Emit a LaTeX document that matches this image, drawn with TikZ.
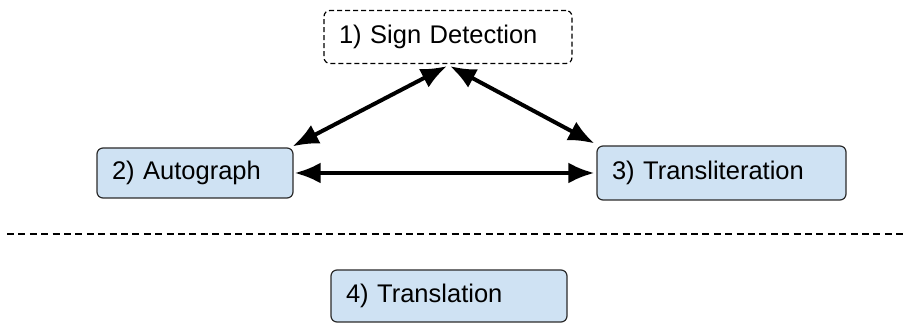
\documentclass[tikz,border=0pt]{standalone}
\usepackage{fontspec}
\setmainfont{Liberation Sans}
\usetikzlibrary{arrows.meta, positioning}

\definecolor{boxblue}{HTML}{CFE2F3}
\definecolor{boxline}{HTML}{2B2B2B}

\begin{document}
\begin{tikzpicture}[x=1pt, y=1pt,
    stage/.style={draw=boxline, line width=1.2pt, rounded corners=6pt, fill=boxblue,
        inner xsep=15pt, align=left, font=\fontsize{25.5}{30}\selectfont},
    link/.style={line width=4pt, {Latex[length=26pt,width=21pt]}-{Latex[length=26pt,width=21pt]}}]

\useasboundingbox (0,0) rectangle (903,324);

\node[stage, draw=black, fill=white, dashed, dash pattern=on 5pt off 3pt,
    text width=218pt, minimum height=53pt] (detect) at (448,287) {1) Sign Detection};
\node[stage, text width=166pt, minimum height=50pt] (autog) at (195,151) {2) Autograph};
\node[stage, text width=219pt, minimum height=54pt] (translit) at (721.5,151) {3) Transliteration};
\node[stage, text width=206pt, minimum height=52pt] (translat) at (449,28) {4) Translation};

\draw[link] ([xshift=-1pt,yshift=-2pt]detect.south) -- ([xshift=-1pt,yshift=1pt]autog.north east);
\draw[link] ([xshift=2pt,yshift=-2pt]detect.south) -- ([xshift=-2pt,yshift=2pt]translit.north west);
\draw[link] ([xshift=1pt]autog.east) -- ([xshift=-2pt]translit.west);

% separator
\coordinate (sepL) at (7,90);
\coordinate (sepR) at (903,90);
\draw[line width=2.5pt, dash pattern=on 7pt off 4.4pt] (sepL) -- (sepR);

\end{tikzpicture}
\end{document}
